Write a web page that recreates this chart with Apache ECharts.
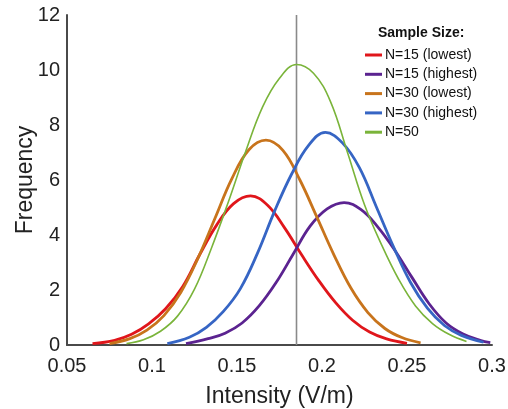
<!DOCTYPE html>
<html>
<head>
<meta charset="utf-8">
<script src="https://cdn.jsdelivr.net/npm/echarts@6/dist/echarts.min.js"></script>
<style>
html,body{margin:0;padding:0;background:#fff;}
#chart{width:508px;height:409px;}
</style>
</head>
<body>
<div id="chart"></div>
<script>
// ---- data ----
const seriesNames = ['N=15 (lowest)', 'N=15 (highest)', 'N=30 (lowest)', 'N=30 (highest)', 'N=50'];

const redX = [0.065, 0.078, 0.088, 0.098, 0.108, 0.118, 0.128, 0.138, 0.148, 0.158, 0.168, 0.178, 0.188, 0.198, 0.208, 0.218, 0.228, 0.238, 0.25];
const redY = [0.05, 0.17, 0.39, 0.77, 1.32, 2.12, 3.28, 4.36, 5.14, 5.42, 5.08, 4.26, 3.28, 2.35, 1.54, 0.90, 0.47, 0.22, 0.06];

const purpleX = [0.12, 0.133, 0.143, 0.153, 0.163, 0.173, 0.183, 0.193, 0.203, 0.213, 0.223, 0.233, 0.243, 0.253, 0.263, 0.273, 0.283, 0.293, 0.299];
const purpleY = [0.05, 0.23, 0.43, 0.80, 1.42, 2.27, 3.30, 4.32, 4.95, 5.18, 4.92, 4.28, 3.43, 2.45, 1.50, 0.80, 0.40, 0.17, 0.09];

const orangeX = [0.075, 0.087, 0.097, 0.107, 0.117, 0.127, 0.137, 0.147, 0.157, 0.167, 0.177, 0.187, 0.197, 0.207, 0.217, 0.227, 0.237, 0.247, 0.258];
const orangeY = [0.05, 0.23, 0.54, 1.07, 1.92, 3.15, 4.60, 6.05, 7.10, 7.45, 7.08, 6.00, 4.65, 3.28, 2.07, 1.18, 0.60, 0.27, 0.08];

const blueX = [0.109, 0.122, 0.132, 0.142, 0.152, 0.162, 0.172, 0.182, 0.192, 0.202, 0.212, 0.222, 0.232, 0.242, 0.252, 0.262, 0.272, 0.282, 0.295];
const blueY = [0.05, 0.28, 0.64, 1.22, 2.05, 3.33, 4.85, 6.20, 7.25, 7.73, 7.35, 6.45, 5.02, 3.58, 2.28, 1.34, 0.71, 0.35, 0.10];

const greenX = [0.085, 0.095, 0.105, 0.115, 0.125, 0.135, 0.145, 0.155, 0.165, 0.175, 0.185, 0.195, 0.205, 0.215, 0.225, 0.235, 0.245, 0.255, 0.265, 0.275, 0.285];
const greenY = [0.05, 0.19, 0.50, 1.05, 2.03, 3.53, 5.22, 7.02, 8.65, 9.70, 10.20, 9.88, 8.85, 7.00, 5.10, 3.65, 2.40, 1.42, 0.78, 0.38, 0.13];

const refLineX = 0.185;
const xTicks = [0.05, 0.1, 0.15, 0.2, 0.25, 0.3];
const yTicks = [0, 2, 4, 6, 8, 10, 12];

// ---- chart ----
const colors = ['#e0161b', '#5b2390', '#c8741c', '#3665c4', '#7ab43a'];
const widths = [2.8, 2.8, 2.8, 2.8, 1.6];
const xs = [redX, purpleX, orangeX, blueX, greenX];
const ys = [redY, purpleY, orangeY, blueY, greenY];
const FONT = '"Liberation Sans", Arial, sans-serif';

const series = [{
  type: 'line',
  silent: true,
  data: [[refLineX, yTicks[0]], [refLineX, yTicks[yTicks.length - 1]]],
  showSymbol: false,
  lineStyle: { color: '#8a8a8a', width: 1.6 },
  z: 1
}];
seriesNames.forEach((name, i) => {
  series.push({
    name: name,
    type: 'line',
    smooth: 0.4,
    showSymbol: false,
    data: xs[i].map((x, k) => [x, ys[i][k]]),
    lineStyle: { color: colors[i], width: widths[i] },
    itemStyle: { color: colors[i] },
    z: 2 + i
  });
});

const chart = echarts.init(document.getElementById('chart'), null, { renderer: 'canvas' });
chart.setOption({
  animation: false,
  backgroundColor: '#ffffff',
  title: {
    text: 'Sample Size:',
    left: 373,
    top: 21,
    textStyle: { fontFamily: FONT, fontSize: 14, fontWeight: 'bold', color: '#111' }
  },
  legend: {
    data: seriesNames,
    orient: 'vertical',
    left: 360,
    top: 43,
    icon: 'rect',
    itemWidth: 17,
    itemHeight: 3,
    itemGap: 5.3,
    textStyle: { fontFamily: FONT, fontSize: 14, color: '#111', padding: [0, 0, 0, -2], lineHeight: 14 }
  },
  grid: { left: 67, right: 16, top: 15, bottom: 64, containLabel: false, outerBoundsMode: 'none' },
  xAxis: {
    type: 'value',
    min: xTicks[0],
    max: xTicks[xTicks.length - 1],
    interval: 0.05,
    name: 'Intensity (V/m)',
    nameLocation: 'middle',
    nameGap: 40,
    nameMoveOverlap: false,
    nameTextStyle: { fontFamily: FONT, fontSize: 23, color: '#222' },
    axisLine: { lineStyle: { color: '#4a4a4a', width: 2 } },
    axisTick: { show: false },
    splitLine: { show: false },
    axisLabel: {
      fontFamily: FONT, fontSize: 20, color: '#222', margin: 11,
      formatter: v => String(+v.toFixed(2))
    }
  },
  yAxis: {
    type: 'value',
    min: yTicks[0],
    max: yTicks[yTicks.length - 1],
    interval: 2,
    name: 'Frequency',
    nameLocation: 'middle',
    nameGap: 30,
    nameMoveOverlap: false,
    nameTextStyle: { fontFamily: FONT, fontSize: 23, color: '#222' },
    axisLine: { show: true, lineStyle: { color: '#4a4a4a', width: 2 } },
    axisTick: { show: false },
    splitLine: { show: false },
    axisLabel: { fontFamily: FONT, fontSize: 20, color: '#222', margin: 7 }
  },
  series: series
});
</script>
</body>
</html>
